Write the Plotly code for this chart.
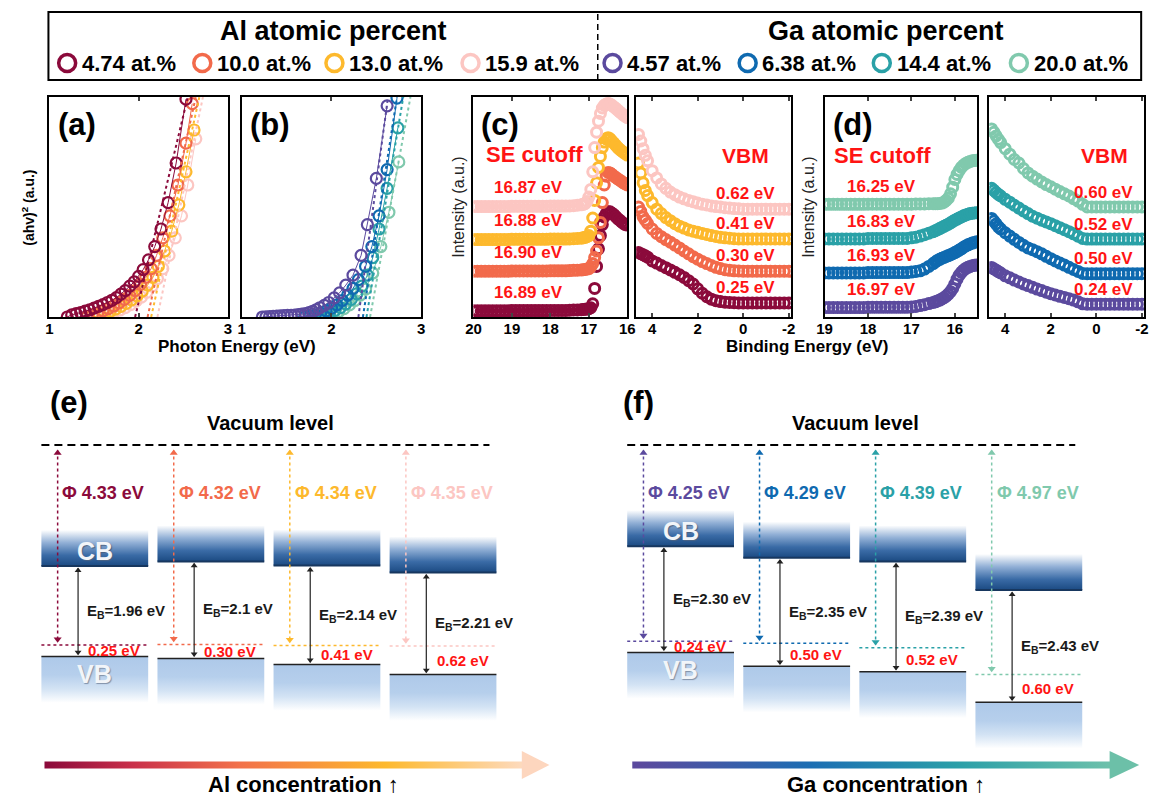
import plotly.graph_objects as go

W, H = 1161, 799
FONT = 'Arial, Liberation Sans, Helvetica, sans-serif'

# ------------------------------------------------------------------ data
al_names = ['4.74 at.%', '10.0 at.%', '13.0 at.%', '15.9 at.%']
ga_names = ['4.57 at.%', '6.38 at.%', '14.4 at.%', '20.0 at.%']

# band parameters (eV)
al_eg = [1.96, 2.1, 2.14, 2.21]
ga_eg = [2.30, 2.35, 2.39, 2.43]
al_phi = [4.33, 4.32, 4.34, 4.35]
ga_phi = [4.25, 4.29, 4.39, 4.97]
al_vbm = [0.25, 0.30, 0.41, 0.62]
ga_vbm = [0.24, 0.50, 0.52, 0.60]
al_cutoff = [16.89, 16.90, 16.88, 16.87]
ga_cutoff = [16.97, 16.93, 16.83, 16.25]

# Tauc plots (photon energy, normalised (ahv)^2)
tauc_al_hv = [
    [1.20, 1.25, 1.30, 1.35, 1.40, 1.45, 1.50, 1.55, 1.60, 1.65, 1.70, 1.75, 1.80, 1.85, 1.90, 1.95, 2.00, 2.05, 2.11, 2.18, 2.25, 2.33, 2.42, 2.53],
    [1.42, 1.48, 1.54, 1.60, 1.66, 1.72, 1.78, 1.84, 1.90, 1.96, 2.02, 2.08, 2.14, 2.20, 2.27, 2.35, 2.44, 2.53, 2.60],
    [1.50, 1.56, 1.62, 1.68, 1.74, 1.80, 1.86, 1.92, 1.98, 2.04, 2.10, 2.16, 2.22, 2.29, 2.37, 2.45, 2.53, 2.62],
    [1.55, 1.61, 1.67, 1.73, 1.79, 1.85, 1.91, 1.97, 2.03, 2.09, 2.15, 2.21, 2.27, 2.34, 2.41, 2.48, 2.55, 2.64],
]
tauc_al_y = [
    [0.00, 0.01, 0.015, 0.02, 0.027, 0.032, 0.04, 0.048, 0.056, 0.066, 0.076, 0.088, 0.104, 0.12, 0.14, 0.16, 0.185, 0.215, 0.26, 0.32, 0.40, 0.52, 0.70, 0.99],
    [0.00, 0.01, 0.018, 0.028, 0.038, 0.05, 0.064, 0.08, 0.098, 0.12, 0.148, 0.18, 0.22, 0.28, 0.36, 0.46, 0.60, 0.79, 0.97],
    [0.00, 0.01, 0.018, 0.026, 0.036, 0.048, 0.062, 0.078, 0.096, 0.118, 0.145, 0.18, 0.23, 0.30, 0.39, 0.51, 0.66, 0.85],
    [0.00, 0.008, 0.015, 0.023, 0.032, 0.043, 0.056, 0.072, 0.09, 0.112, 0.14, 0.175, 0.22, 0.28, 0.36, 0.46, 0.60, 0.81],
]
tauc_al_fit_end = [2.55, 2.64, 2.68, 2.72]

tauc_ga_hv = [
    [1.23, 1.27, 1.31, 1.35, 1.39, 1.43, 1.47, 1.51, 1.55, 1.59, 1.63, 1.67, 1.71, 1.75, 1.79, 1.83, 1.87, 1.92, 1.97, 2.03, 2.09, 2.16, 2.24, 2.33, 2.40, 2.50, 2.62],
    [1.70, 1.76, 1.82, 1.88, 1.94, 2.00, 2.06, 2.12, 2.18, 2.24, 2.30, 2.38, 2.45, 2.53, 2.62, 2.73],
    [1.80, 1.86, 1.92, 1.98, 2.04, 2.10, 2.16, 2.22, 2.28, 2.34, 2.40, 2.46, 2.53, 2.62, 2.74],
    [1.90, 1.96, 2.02, 2.08, 2.14, 2.20, 2.26, 2.32, 2.38, 2.46, 2.55, 2.64, 2.75],
]
tauc_ga_y = [
    [0.0, 0.001, 0.002, 0.003, 0.004, 0.005, 0.006, 0.007, 0.008, 0.009, 0.011, 0.013, 0.016, 0.02, 0.026, 0.033, 0.042, 0.053, 0.066, 0.087, 0.11, 0.145, 0.19, 0.28, 0.42, 0.63, 0.96],
    [0.0, 0.004, 0.01, 0.018, 0.028, 0.04, 0.055, 0.075, 0.10, 0.13, 0.17, 0.23, 0.32, 0.46, 0.67, 0.995],
    [0.0, 0.005, 0.012, 0.02, 0.03, 0.043, 0.06, 0.08, 0.105, 0.14, 0.19, 0.27, 0.40, 0.585, 0.86],
    [0.0, 0.006, 0.014, 0.024, 0.038, 0.055, 0.075, 0.10, 0.127, 0.20, 0.32, 0.476, 0.705],
]
tauc_ga_fit_end = [2.63, 2.73, 2.80, 2.88]

# UPS secondary-electron cutoff (binding energy, offset intensity)
se_al_x = [20.0, 19.9, 19.8, 19.7, 19.6, 19.5, 19.4, 19.3, 19.2, 19.1,
           19.0, 18.9, 18.8, 18.7, 18.6, 18.5, 18.4, 18.3, 18.2, 18.1,
           18.0, 17.9, 17.8, 17.7, 17.6, 17.5, 17.4, 17.3, 17.2,
           17.15, 17.1, 17.05, 17.0, 16.95, 16.9, 16.85, 16.8, 16.75, 16.7,
           16.65, 16.6, 16.55, 16.5, 16.45, 16.4, 16.35, 16.3, 16.25, 16.2,
           16.15, 16.1, 16.05, 16.0]
se_al_y = [
    [0.028, 0.028, 0.028, 0.028, 0.028, 0.028, 0.028, 0.028, 0.028, 0.028,
     0.029, 0.029, 0.029, 0.029, 0.029, 0.029, 0.029, 0.029, 0.029, 0.029,
     0.030, 0.030, 0.030, 0.030, 0.030, 0.031, 0.032, 0.032, 0.033,
     0.034, 0.035, 0.036, 0.038, 0.042, 0.06, 0.13, 0.23, 0.31, 0.37,
     0.42, 0.455, 0.47, 0.478, 0.478, 0.472, 0.465, 0.456, 0.447, 0.44,
     0.432, 0.425, 0.42, 0.418],
    [0.208, 0.208, 0.208, 0.208, 0.208, 0.208, 0.208, 0.208, 0.208, 0.208,
     0.209, 0.209, 0.209, 0.209, 0.209, 0.209, 0.209, 0.209, 0.209, 0.209,
     0.210, 0.210, 0.210, 0.210, 0.210, 0.211, 0.212, 0.213, 0.214,
     0.215, 0.216, 0.218, 0.22, 0.228, 0.243, 0.27, 0.30, 0.36, 0.43,
     0.52, 0.60, 0.64, 0.657, 0.655, 0.648, 0.64, 0.634, 0.628, 0.622,
     0.616, 0.61, 0.605, 0.60],
    [0.352, 0.352, 0.352, 0.352, 0.352, 0.352, 0.352, 0.352, 0.352, 0.352,
     0.353, 0.353, 0.353, 0.353, 0.353, 0.353, 0.353, 0.353, 0.353, 0.353,
     0.354, 0.354, 0.354, 0.354, 0.354, 0.355, 0.356, 0.357, 0.358,
     0.36, 0.362, 0.365, 0.37, 0.39, 0.45, 0.53, 0.61, 0.68, 0.73,
     0.77, 0.795, 0.81, 0.815, 0.81, 0.80, 0.79, 0.78, 0.77, 0.762,
     0.755, 0.748, 0.742, 0.736],
    [0.502, 0.502, 0.502, 0.502, 0.502, 0.502, 0.502, 0.502, 0.502, 0.502,
     0.503, 0.503, 0.503, 0.503, 0.503, 0.503, 0.503, 0.503, 0.503, 0.503,
     0.504, 0.504, 0.504, 0.504, 0.504, 0.505, 0.506, 0.508, 0.51,
     0.512, 0.515, 0.525, 0.545, 0.58, 0.66, 0.77, 0.84, 0.89, 0.925,
     0.95, 0.962, 0.968, 0.97, 0.968, 0.962, 0.955, 0.948, 0.94, 0.932,
     0.925, 0.918, 0.912, 0.906],
]

se_ga_x = [19.0, 18.9, 18.8, 18.7, 18.6, 18.5, 18.4, 18.3, 18.2, 18.1,
           18.0, 17.9, 17.8, 17.7, 17.6, 17.5, 17.4, 17.3, 17.2, 17.1,
           17.0, 16.9, 16.8, 16.7, 16.6, 16.5,
           16.45, 16.4, 16.35, 16.3, 16.25, 16.2, 16.15, 16.1, 16.05, 16.0,
           15.95, 15.9, 15.85, 15.8, 15.75, 15.7, 15.65, 15.6, 15.55, 15.5]
se_ga_y = [
    [0.043, 0.043, 0.043, 0.043, 0.043, 0.043, 0.043, 0.043, 0.043, 0.043,
     0.044, 0.044, 0.044, 0.044, 0.044, 0.044, 0.044, 0.044, 0.044, 0.044,
     0.046, 0.048, 0.052, 0.056, 0.061, 0.066,
     0.069, 0.073, 0.077, 0.082, 0.088, 0.095, 0.104, 0.115, 0.13, 0.15,
     0.172, 0.19, 0.203, 0.213, 0.221, 0.226, 0.23, 0.233, 0.235, 0.236],
    [0.200, 0.200, 0.200, 0.200, 0.200, 0.200, 0.200, 0.200, 0.200, 0.200,
     0.202, 0.202, 0.202, 0.202, 0.202, 0.202, 0.202, 0.202, 0.202, 0.202,
     0.204, 0.207, 0.21, 0.218, 0.23, 0.243,
     0.25, 0.257, 0.262, 0.267, 0.271, 0.275, 0.279, 0.283, 0.288, 0.293,
     0.298, 0.304, 0.31, 0.317, 0.323, 0.328, 0.332, 0.336, 0.339, 0.342],
    [0.355, 0.355, 0.355, 0.355, 0.355, 0.355, 0.355, 0.355, 0.355, 0.355,
     0.357, 0.357, 0.357, 0.357, 0.357, 0.357, 0.357, 0.357, 0.357, 0.357,
     0.36, 0.363, 0.368, 0.374, 0.381, 0.388,
     0.392, 0.397, 0.402, 0.407, 0.412, 0.417, 0.422, 0.428, 0.434, 0.44,
     0.445, 0.45, 0.455, 0.46, 0.464, 0.467, 0.47, 0.472, 0.473, 0.474],
    [0.512, 0.512, 0.512, 0.512, 0.512, 0.512, 0.512, 0.512, 0.512, 0.512,
     0.513, 0.513, 0.513, 0.513, 0.513, 0.513, 0.513, 0.513, 0.513, 0.513,
     0.513, 0.514, 0.514, 0.514, 0.515, 0.515,
     0.515, 0.515, 0.516, 0.518, 0.522, 0.53, 0.54, 0.56, 0.59, 0.625,
     0.648, 0.665, 0.68, 0.69, 0.698, 0.703, 0.707, 0.71, 0.711, 0.712],
]

# UPS valence-band region
vb_x = [4.6, 4.5, 4.4, 4.3, 4.2, 4.0, 3.8, 3.6, 3.4, 3.2, 3.0, 2.8, 2.6, 2.4, 2.2, 2.0, 1.8, 1.6,
        1.4, 1.2, 1.0, 0.8, 0.6, 0.4, 0.2, 0.0, -0.2, -0.4, -0.6, -0.8, -1.0, -1.2, -1.4, -1.6, -1.8, -2.0]
vb_al_y = [
    [0.293, 0.288, 0.283, 0.278, 0.272, 0.255, 0.245, 0.234, 0.224, 0.214, 0.203, 0.192, 0.18, 0.165, 0.15, 0.128, 0.108, 0.092,
     0.081, 0.074, 0.07, 0.067, 0.066, 0.065, 0.064, 0.064, 0.064, 0.064, 0.064, 0.064, 0.064, 0.064, 0.064, 0.064, 0.064, 0.064],
    [0.50, 0.48, 0.455, 0.44, 0.425, 0.40, 0.38, 0.365, 0.352, 0.34, 0.327, 0.314, 0.30, 0.287, 0.274, 0.263, 0.252, 0.243,
     0.234, 0.226, 0.22, 0.215, 0.212, 0.21, 0.209, 0.208, 0.208, 0.208, 0.208, 0.208, 0.208, 0.208, 0.208, 0.208, 0.208, 0.208],
    [0.70, 0.655, 0.61, 0.575, 0.552, 0.52, 0.49, 0.47, 0.452, 0.438, 0.424, 0.413, 0.404, 0.396, 0.39, 0.385, 0.38, 0.375,
     0.37, 0.366, 0.362, 0.36, 0.358, 0.356, 0.355, 0.355, 0.355, 0.355, 0.355, 0.355, 0.355, 0.355, 0.355, 0.355, 0.355, 0.355],
    [0.83, 0.80, 0.765, 0.735, 0.71, 0.665, 0.632, 0.605, 0.585, 0.568, 0.556, 0.545, 0.537, 0.53, 0.524, 0.518, 0.513, 0.509,
     0.505, 0.502, 0.5, 0.497, 0.495, 0.493, 0.492, 0.49, 0.49, 0.49, 0.49, 0.49, 0.49, 0.49, 0.49, 0.49, 0.49, 0.49],
]
vb_ga_y = [
    [0.225, 0.219, 0.213, 0.206, 0.20, 0.187, 0.178, 0.168, 0.159, 0.15, 0.143, 0.135, 0.127, 0.12, 0.113, 0.106, 0.10, 0.094,
     0.089, 0.083, 0.077, 0.069, 0.06, 0.058, 0.058, 0.058, 0.058, 0.058, 0.058, 0.058, 0.058, 0.058, 0.058, 0.058, 0.058, 0.058],
    [0.448, 0.436, 0.423, 0.41, 0.40, 0.383, 0.368, 0.353, 0.339, 0.326, 0.314, 0.306, 0.297, 0.287, 0.276, 0.265, 0.255, 0.245,
     0.236, 0.226, 0.216, 0.207, 0.198, 0.197, 0.197, 0.197, 0.197, 0.197, 0.197, 0.197, 0.197, 0.197, 0.197, 0.197, 0.197, 0.197],
    [0.585, 0.576, 0.566, 0.557, 0.55, 0.535, 0.522, 0.508, 0.495, 0.482, 0.47, 0.458, 0.449, 0.44, 0.432, 0.424, 0.415, 0.406,
     0.397, 0.388, 0.378, 0.367, 0.357, 0.354, 0.354, 0.354, 0.354, 0.354, 0.354, 0.354, 0.354, 0.354, 0.354, 0.354, 0.354, 0.354],
    [0.855, 0.84, 0.823, 0.808, 0.793, 0.765, 0.74, 0.716, 0.70, 0.675, 0.655, 0.64, 0.627, 0.614, 0.602, 0.592, 0.581, 0.57,
     0.56, 0.55, 0.538, 0.527, 0.512, 0.50, 0.50, 0.50, 0.50, 0.50, 0.50, 0.50, 0.50, 0.50, 0.50, 0.50, 0.50, 0.50],
]

# ------------------------------------------------------------------ styles
al_colors = ['#8B0A3B', '#F26A4B', '#FDB92D', '#FCC6C2']
ga_colors = ['#5B4A9E', '#0F6AB0', '#2AA1A7', '#80C9AD']
RED = '#FF1414'


def px(x):
    return x / W


def py(y):
    return 1 - y / H


annotations = []
shapes = []


def text(t, x, y, size, color='black', bold=True, xanchor='center', yanchor='middle',
         angle=0, xref='paper', yref='paper', shadow=None):
    xx = px(x) if xref == 'paper' else x
    yy = py(y) if yref == 'paper' else y
    f = dict(family=FONT, size=size, color=color)
    if shadow:
        f['shadow'] = shadow
    annotations.append(dict(text=f'<b>{t}</b>' if bold else t, x=xx, y=yy, xref=xref, yref=yref,
                            xanchor=xanchor, yanchor=yanchor, showarrow=False, textangle=angle,
                            font=f))


fig = go.Figure()

box_axis = dict(showline=True, linewidth=2, linecolor='black', showgrid=False, zeroline=False)
tickfont = dict(family=FONT, size=15, color='black', weight='bold')
TOP, BOT = 97, 317


def xaxis_cfg(l, r, rng, vals, anchor, texts=None):
    d = dict(domain=[px(l), px(r)], range=rng, anchor=anchor, tickvals=vals, ticks='inside',
             ticklen=4, tickwidth=1.5, mirror='ticks', tickfont=tickfont, ticklabelstandoff=-3,
             **box_axis)
    if texts:
        d['ticktext'] = texts
    return d


def yaxis_cfg(anchor):
    return dict(domain=[py(BOT), py(TOP)], range=[0, 1], anchor=anchor, showticklabels=False,
                ticks='', mirror=True, **box_axis)


layout_axes = {
    'xaxis': xaxis_cfg(42, 223, [1, 3], [1, 2, 3], 'y'),
    'yaxis': yaxis_cfg('x'),
    'xaxis2': xaxis_cfg(237, 419, [1, 3], [1, 2, 3], 'y2'),
    'yaxis2': yaxis_cfg('x2'),
    'xaxis3': xaxis_cfg(472, 628, [20, 16], [20, 19, 18, 17, 16], 'y3'),
    'yaxis3': yaxis_cfg('x3'),
    'xaxis4': xaxis_cfg(637, 794, [4.7, -2.1], [4, 2, 0, -2], 'y4', ['4', '2', '0', '-2']),
    'yaxis4': yaxis_cfg('x4'),
    'xaxis5': xaxis_cfg(828, 983, [19, 15.48], [19, 18, 17, 16], 'y5'),
    'yaxis5': yaxis_cfg('x5'),
    'xaxis6': xaxis_cfg(995, 1152, [4.7, -2.1], [4, 2, 0, -2], 'y6', ['4', '2', '0', '-2']),
    'yaxis6': yaxis_cfg('x6'),
}

# ---------------- Tauc plots (a), (b)
for hv, yy, eg, fit_end, cols, ax in [
        (tauc_al_hv, tauc_al_y, al_eg, tauc_al_fit_end, al_colors, ('x', 'y')),
        (tauc_ga_hv, tauc_ga_y, ga_eg, tauc_ga_fit_end, ga_colors, ('x2', 'y2'))]:
    for i in reversed(range(4)):
        fig.add_trace(go.Scatter(x=hv[i], y=yy[i], mode='lines+markers', xaxis=ax[0], yaxis=ax[1],
                                 line=dict(color=cols[i], width=1),
                                 marker=dict(symbol='circle-open', size=11, color=cols[i], line=dict(width=2.2)),
                                 showlegend=False, hoverinfo='skip'))
    for i in reversed(range(4)):
        fig.add_trace(go.Scatter(x=[eg[i], fit_end[i]], y=[0, 1], mode='lines', xaxis=ax[0], yaxis=ax[1],
                                 line=dict(color=cols[i], width=2, dash='dot'),
                                 showlegend=False, hoverinfo='skip'))

# ---------------- UPS (c), (d)
for xs, ys, cols, ax in [(se_al_x, se_al_y, al_colors, ('x3', 'y3')),
                         (vb_x, vb_al_y, al_colors, ('x4', 'y4')),
                         (se_ga_x, se_ga_y, ga_colors, ('x5', 'y5')),
                         (vb_x, vb_ga_y, ga_colors, ('x6', 'y6'))]:
    for i in range(4):
        fig.add_trace(go.Scatter(x=xs, y=ys[i], mode='markers', xaxis=ax[0], yaxis=ax[1],
                                 marker=dict(symbol='circle-open', size=10, color=cols[i], line=dict(width=3)),
                                 showlegend=False, hoverinfo='skip'))

# labels in UPS panels
text('SE cutoff', 534, 154, 22, RED)
text('VBM', 748, 156, 21, RED)
text('SE cutoff', 887, 156, 22, RED)
text('VBM', 1112, 156, 21, RED)
for i in range(4):
    text(f'{al_cutoff[i]:.2f} eV', 18.56, se_al_y[i][0] + 0.085, 17, RED, xref='x3', yref='y3')
    text(f'{al_vbm[i]:.2f} eV', -0.1, vb_al_y[i][-1] + 0.07, 17, RED, xref='x4', yref='y4')
    text(f'{ga_cutoff[i]:.2f} eV', 17.70, se_ga_y[i][0] + 0.08, 17, RED, xref='x5', yref='y5')
    text(f'{ga_vbm[i]:.2f} eV', -0.32, vb_ga_y[i][-1] + 0.068, 17, RED, xref='x6', yref='y6')

# panel letters and axis titles
for lab, x, y in [('(a)', 70, 124), ('(b)', 266, 124), ('(c)', 499, 124), ('(d)', 857, 124),
                  ('(e)', 62, 402), ('(f)', 639, 402)]:
    text(lab, x, y, 31)
text('Photon Energy (eV)', 232, 346, 17)
text('Binding Energy (eV)', 810, 346, 17)
text('(ahv)<sup>2</sup> (a.u.)', 20, 208, 14, angle=-90)
text('Intensity (a.u.)', 456, 207, 16, color='#222', bold=False, angle=-90)
text('Intensity (a.u.)', 811, 207, 16, color='#222', bold=False, angle=-90)

# ---------------- band diagrams (e), (f)
EV_PX = 46.2       # pixels per eV
VAC_PX = 445       # vacuum level pixel row
BAND_TOP = 380
COL_PX = 117.7
yr = [-(H - VAC_PX) / EV_PX, (VAC_PX - BAND_TOP) / EV_PX]
layout_axes['xaxis7'] = dict(domain=[px(20), px(570)], range=[(20 - 88) / COL_PX, (570 - 88) / COL_PX],
                             anchor='y7', visible=False)
layout_axes['yaxis7'] = dict(domain=[0, py(BAND_TOP)], range=yr, anchor='x7', visible=False)
layout_axes['xaxis8'] = dict(domain=[px(614), px(1161)], range=[(614 - 682) / COL_PX, (1161 - 682) / COL_PX],
                             anchor='y8', visible=False)
layout_axes['yaxis8'] = dict(domain=[0, py(BAND_TOP)], range=yr, anchor='x8', visible=False)

HW = 0.46
CB_H = 0.78
VB_H = 1.0
HEAD = 0.075
cb_scale = [[0, '#1B4A82'], [0.3, '#3A6BA6'], [0.65, '#92B0D6'], [1, '#FFFFFF']]
vb_scale = [[0, '#FFFFFF'], [0.3, '#D3E3F4'], [0.6, '#B6CFEC'], [1, '#AEC9E9']]


def line_tr(x, y, color, width, ax, dash=None):
    return go.Scatter(x=x, y=y, mode='lines', xaxis=ax[0], yaxis=ax[1],
                      line=dict(color=color, width=width, dash=dash), showlegend=False, hoverinfo='skip')


def heads_tr(x, y_up, y_down, color, size, ax):
    return go.Scatter(x=[x, x], y=[y_up, y_down], mode='markers', xaxis=ax[0], yaxis=ax[1],
                      marker=dict(symbol=['triangle-up', 'triangle-down'], size=size, color=color,
                                  line=dict(width=0)),
                      showlegend=False, hoverinfo='skip')


for eg, phi, vbm, cols, ax, fmt in [(al_eg, al_phi, al_vbm, al_colors, ('x7', 'y7'), '{:g}'),
                                    (ga_eg, ga_phi, ga_vbm, ga_colors, ('x8', 'y8'), '{:.2f}')]:
    fig.add_trace(line_tr([-HW, 3 - 0.06 + HW], [0, 0], 'black', 2, ax, '8px,5px'))
    for i in range(4):
        xc = i
        vb = -(phi[i] + vbm[i])
        cb = vb + eg[i]
        ef = -phi[i]
        bx = [xc - HW, xc + HW, xc + HW, xc - HW, xc - HW]
        fig.add_trace(go.Scatter(x=bx, y=[cb, cb, cb + CB_H, cb + CB_H, cb], fill='toself', mode='lines',
                                 line=dict(width=0), xaxis=ax[0], yaxis=ax[1],
                                 fillgradient=dict(type='vertical', colorscale=cb_scale, start=cb, stop=cb + CB_H),
                                 showlegend=False, hoverinfo='skip'))
        fig.add_trace(go.Scatter(x=bx, y=[vb - VB_H, vb - VB_H, vb, vb, vb - VB_H], fill='toself', mode='lines',
                                 line=dict(width=0), xaxis=ax[0], yaxis=ax[1],
                                 fillgradient=dict(type='vertical', colorscale=vb_scale, start=vb - VB_H, stop=vb),
                                 showlegend=False, hoverinfo='skip'))
        fig.add_trace(line_tr([xc - HW, xc + HW], [cb, cb], '#17375F', 2, ax))
        fig.add_trace(line_tr([xc - HW, xc + HW], [vb, vb], '#222', 1.5, ax))
        fig.add_trace(line_tr([xc - HW, xc + HW], [ef, ef], cols[i], 1.5, ax, 'dot'))
        # work-function arrow (dotted, double headed)
        xa = xc - 0.32
        fig.add_trace(line_tr([xa, xa], [-0.12, ef + 0.07], cols[i], 1.5, ax, 'dot'))
        fig.add_trace(heads_tr(xa, -0.1 - HEAD, ef + 0.05 + HEAD, cols[i], 7, ax))
        # band-gap arrow
        xb = xc - 0.144
        fig.add_trace(line_tr([xb, xb], [cb - 0.05, vb + 0.05], '#222', 1.2, ax))
        fig.add_trace(heads_tr(xb, cb - 0.02 - HEAD, vb + 0.02 + HEAD, '#222', 6, ax))
        text(f'\u03a6 {phi[i]:.2f} eV', xc + 0.075, -1.04, 18, cols[i], xref=ax[0], yref=ax[1])
        text('E<sub>B</sub>=' + fmt.format(eg[i]) + ' eV', xc - 0.085, (vb + cb) / 2, 15, '#1a1a1a',
             xanchor='left', xref=ax[0], yref=ax[1])
        text(f'{vbm[i]:.2f} eV', xc + 0.41, ef - vbm[i] / 2, 15, RED, xanchor='right', xref=ax[0], yref=ax[1])
        if i == 0:
            text('CB', xc, cb + 0.33, 25, '#F2F5F9', xref=ax[0], yref=ax[1], shadow='1px 1px 1px #4a6283')
            text('VB', xc, vb - 0.38, 25, '#F2F5F9', xref=ax[0], yref=ax[1], shadow='1px 1px 1px #8191a8')

text('Vacuum level', 266, 423, 20)
text('Vacuum level', 859, 423, 20)

# ---------------- overlay (pixel) axis for legend markers and concentration arrows
layout_axes['xaxis9'] = dict(domain=[0, 1], range=[0, W], anchor='y9', visible=False)
layout_axes['yaxis9'] = dict(domain=[0, 1], range=[H, 0], anchor='x9', visible=False)

leg_x = [60, 197, 331, 469, 613, 750, 886, 1025]
leg_y = 63
fig.add_trace(go.Scatter(x=leg_x, y=[leg_y] * 8, mode='markers', xaxis='x9', yaxis='y9',
                         marker=dict(symbol='circle-open', size=17, color=al_colors + ga_colors,
                                     line=dict(width=3.5)),
                         showlegend=False, hoverinfo='skip'))
for xm, name in zip(leg_x, al_names + ga_names):
    text(name, xm + 13, leg_y, 22, xanchor='left')
text('Al atomic percent', 330, 31, 27)
text('Ga atomic percent', 890, 31, 27)
shapes.append(dict(type='rect', xref='paper', yref='paper', x0=px(41), x1=px(1149), y0=py(80), y1=py(12),
                   line=dict(color='black', width=2)))
shapes.append(dict(type='line', xref='paper', yref='paper', x0=px(598), x1=px(598), y0=py(80), y1=py(12),
                   line=dict(color='black', width=1.5, dash='6px,4px')))

# concentration arrows
ay0, ay1 = 761.5, 768.5
for x0, x1, tip, scale, headcol, label, lx in [
        (37, 523, 549, [[0, '#8B0A3B'], [0.18, '#C9304A'], [0.4, '#F2714A'], [0.7, '#FDB92D'], [1, '#FDDCC6']],
         '#FDD6BE', 'Al concentration', 300),
        (633, 1119, 1147, [[0, '#5B4A9E'], [0.35, '#1C6EB3'], [0.65, '#2A9FA8'], [1, '#74C4AB']],
         '#6CC0A8', 'Ga concentration', 890)]:
    fig.add_trace(go.Scatter(x=[x0, x1, x1, x0, x0], y=[ay0, ay0, ay1, ay1, ay0], fill='toself', mode='lines',
                             line=dict(width=0), xaxis='x9', yaxis='y9',
                             fillgradient=dict(type='horizontal', colorscale=scale, start=x0, stop=x1),
                             showlegend=False, hoverinfo='skip'))
    fig.add_trace(go.Scatter(x=[x1 - 2, tip, x1 - 2, x1 - 2], y=[751, 765, 779, 751], fill='toself', mode='lines',
                             line=dict(width=0), fillcolor=headcol, xaxis='x9', yaxis='y9',
                             showlegend=False, hoverinfo='skip'))
    text(label + ' \u2191', lx, 784, 22)

fig.update_layout(width=W, height=H, margin=dict(l=0, r=0, t=0, b=0), paper_bgcolor='white',
                  plot_bgcolor='rgba(0,0,0,0)', showlegend=False, annotations=annotations, shapes=shapes,
                  **layout_axes)
fig.write_html('out.html', config={'displayModeBar': False},
               post_script="document.body.style.margin='0px';document.body.style.padding='0px';"
                           "document.body.style.overflow='hidden';")
